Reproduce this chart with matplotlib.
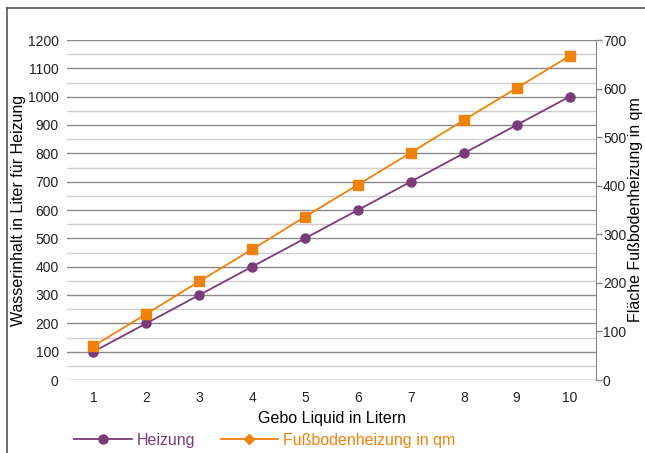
import matplotlib.pyplot as plt
from matplotlib.lines import Line2D

plt.rcParams['font.family'] = ['Liberation Sans', 'DejaVu Sans']

liters = [1, 2, 3, 4, 5, 6, 7, 8, 9, 10]
heizung = [100, 200, 300, 400, 500, 600, 700, 800, 900, 1000]
flaeche = [70, 136, 203, 269, 336, 402, 468, 535, 601, 667]

purple = '#7a3b78'
orange = '#f0820a'

fig = plt.figure(figsize=(6.45, 4.53), dpi=100)
ax = fig.add_axes([67/645, 1 - 380/453, 529/645, 340/453])
ax2 = ax.twinx()

pos = list(range(len(liters)))
ax.set_xlim(-0.5, len(liters) - 0.5)
ax.set_ylim(0, 1200)
ax2.set_ylim(0, 700)

# grid: dark every 100, light in between
for v in range(50, 1200, 100):
    ax.axhline(v, color='#cfcfcf', lw=1, zorder=0)
for v in range(100, 1201, 100):
    ax.axhline(v, color='#8a8a8a', lw=1, zorder=0)
ax.axhline(0, color='#8a8a8a', lw=1, zorder=0)

l1, = ax.plot(pos, heizung, color=purple, marker='o', ms=6.5, lw=1.3, zorder=3)
l2, = ax2.plot(pos, flaeche, color=orange, marker='s', ms=6.5, lw=1.3, zorder=3)

ax.set_xticks(pos)
ax.set_xticklabels([str(x) for x in liters])
ax.set_yticks(range(0, 1201, 100))
ax2.set_yticks(range(0, 701, 100))

for a in (ax, ax2):
    for s in ('top', 'left', 'bottom', 'right'):
        a.spines[s].set_visible(False)
ax2.spines['right'].set_visible(True)
ax2.spines['right'].set_color('#8a8a8a')

ax.tick_params(axis='x', length=0, pad=8, labelsize=10, colors='#222222')
ax.tick_params(axis='y', length=0, pad=6, labelsize=10, colors='#222222')
ax2.tick_params(axis='y', length=4, width=1, color='#8a8a8a', pad=1,
                labelsize=10, labelcolor='#222222')

ax.set_xlabel('Gebo Liquid in Litern', fontsize=11.5, labelpad=4)
ax.set_ylabel('Wasserinhalt in Liter für Heizung', fontsize=11.5, labelpad=1)
ax2.set_ylabel('Fläche Fußbodenheizung in qm', fontsize=11.5, labelpad=1)

h2 = Line2D([], [], color=orange, marker='D', ms=5.5, lw=1.3)
leg = fig.legend([l1, h2], ['Heizung', 'Fußbodenheizung in qm'],
                 loc='center left', bbox_to_anchor=(60/645, 1 - 440/453),
                 ncol=2, frameon=False, fontsize=11.5, handlelength=3.6,
                 handletextpad=0.3, columnspacing=1.6)
for t, c in zip(leg.get_texts(), (purple, orange)):
    t.set_color(c)

# outer frame
fig.add_artist(Line2D([7/645, 1], [1 - 8/453, 1 - 8/453], color='#555555', lw=1.2))
fig.add_artist(Line2D([7/645, 7/645], [0, 1 - 8/453], color='#555555', lw=1.2))

fig.savefig('out.png', dpi=100)
